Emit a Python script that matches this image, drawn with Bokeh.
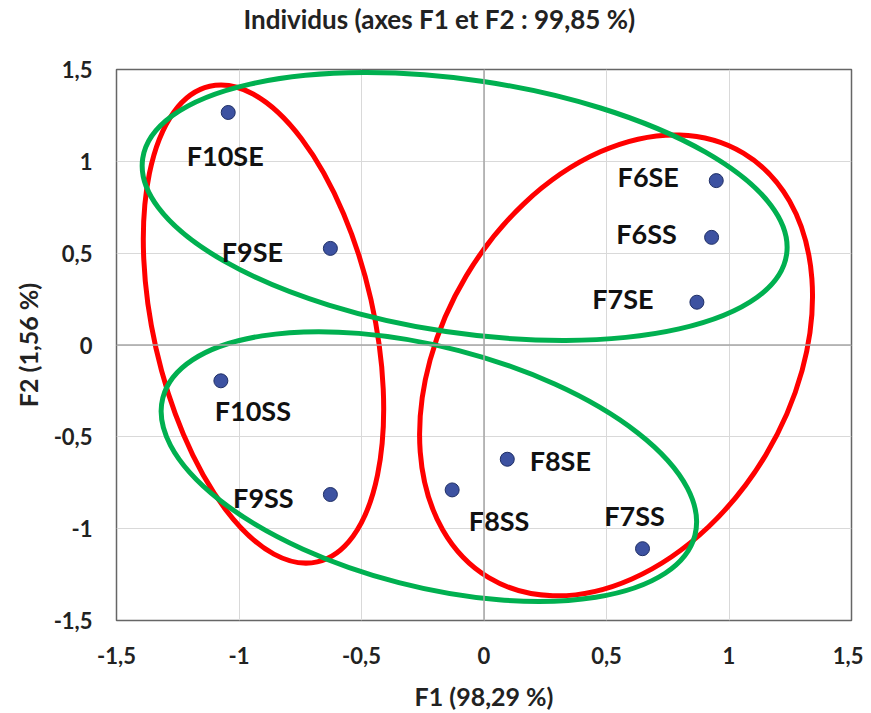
from bokeh.plotting import figure
from bokeh.models import FixedTicker, Span, ColumnDataSource, Title
from bokeh.core.properties import value
from bokeh.embed import file_html
from bokeh.resources import INLINE

# ---- data ----
names = ["F10SE", "F9SE", "F6SE", "F6SS", "F7SE", "F10SS", "F9SS", "F8SE", "F8SS", "F7SS"]
f1 = [-1.044, -0.627, 0.948, 0.929, 0.869, -1.074, -0.627, 0.095, -0.130, 0.647]
f2 = [1.266, 0.526, 0.895, 0.586, 0.233, -0.195, -0.814, -0.622, -0.789, -1.109]
ticks = [-1.5, -1, -0.5, 0, 0.5, 1, 1.5]
tick_labels = ["-1,5", "-1", "-0,5", "0", "0,5", "1", "1,5"]
title_text = "Individus (axes F1 et F2 : 99,85 %)"
xlabel = "F1 (98,29 %)"
ylabel = "F2 (1,56 %)"

# ---- label placement (screen px offsets, styling) ----
label_dx = [-3, -78, -68, -65, -74, 32, -67, 53, 47, -8]
label_dy = [43, 3, -4, -4, -4, 30, 3, 1, 31, -33]

# ---- group ellipses: centre (data), diameters (px), angle (deg) ----
ell_x = [-0.900, 0.539, -0.079, -0.225]
ell_y = [0.114, -0.111, 0.754, -0.662]
ell_w = [487.6, 495.0, 651.0, 549.6]
ell_h = [220.4, 349.0, 252.8, 239.8]
ell_angle = [-77.26, 59.05, -8.5, -14.5]
ell_color = ["#FF0000", "#FF0000", "#00B050", "#00B050"]

FONT = "Lato"

p = figure(width=863, height=713, x_range=(-1.5, 1.5), y_range=(-1.5, 1.5),
           output_backend="svg", toolbar_location=None,
           min_border_left=116, min_border_right=12, min_border_top=68, min_border_bottom=92)
p.title.text = ""

# empty spacer panel between frame and title, then the title itself
p.add_layout(Title(text=" ", text_font_size="30px", standoff=0), "above")
p.add_layout(Title(text=title_text, text_font=FONT, text_font_style="bold",
                   text_font_size="26px", align="left", offset=127, standoff=0,
                   text_color="#222222"), "above")

for ax in (p.xaxis, p.yaxis):
    ax.ticker = FixedTicker(ticks=ticks)
    ax.major_label_overrides = {t: l for t, l in zip(ticks, tick_labels)}
    ax.axis_line_color = None
    ax.major_tick_line_color = None
    ax.minor_tick_line_color = None
    ax.major_tick_out = 0
    ax.major_tick_in = 0
    ax.major_label_text_font = FONT
    ax.major_label_text_font_style = "bold"
    ax.major_label_text_font_size = "22px"
    ax.major_label_text_color = "#222222"
    ax.axis_label_text_font = FONT
    ax.axis_label_text_font_style = "bold"
    ax.axis_label_text_font_size = "25px"
    ax.axis_label_text_color = "#222222"

p.xaxis.axis_label = xlabel
p.yaxis.axis_label = ylabel
p.xaxis.major_label_standoff = 26
p.yaxis.major_label_standoff = 24
p.xaxis.axis_label_standoff = 14
p.yaxis.axis_label_standoff = 8

p.grid.grid_line_color = "#d9d9d9"
p.grid.grid_line_width = 1
p.xgrid.ticker = FixedTicker(ticks=ticks)
p.ygrid.ticker = FixedTicker(ticks=ticks)
p.outline_line_color = "#666666"
p.outline_line_width = 1.5

p.add_layout(Span(location=0, dimension="width", line_color="#a6a6a6", line_width=1.5))
p.add_layout(Span(location=0, dimension="height", line_color="#a6a6a6", line_width=1.5))

esrc = ColumnDataSource(dict(x=ell_x, y=ell_y, w=ell_w, h=ell_h, a=ell_angle, c=ell_color))
p.ellipse(x="x", y="y", width="w", height="h", angle="a", angle_units="deg",
          width_units="screen", height_units="screen", source=esrc,
          fill_color=None, line_color="c", line_width=5)

src = ColumnDataSource(dict(x=f1, y=f2, name=names, dx=label_dx, dy=label_dy))
p.scatter(x="x", y="y", source=src, size=14, fill_color="#3D52A1",
          line_color="#1F2F66", line_width=1)
p.text(x="x", y="y", text="name", source=src, x_offset="dx", y_offset="dy",
       text_align="center", text_baseline="middle", text_font=value(FONT),
       text_font_style="bold", text_font_size="27px", text_color="#111111")

open("out.html", "w").write(file_html(p, INLINE))
